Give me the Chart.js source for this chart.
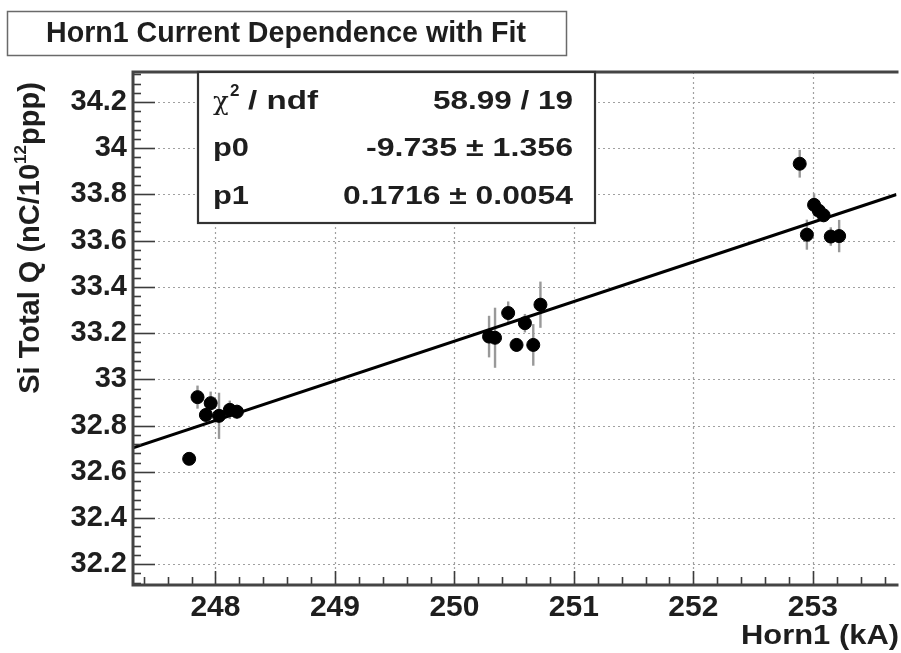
<!DOCTYPE html>
<html>
<head>
<meta charset="utf-8">
<script src="https://cdn.jsdelivr.net/npm/chart.js@4.4.1/dist/chart.umd.min.js"></script>
<style>
  html, body { margin: 0; padding: 0; background: #fff; overflow: hidden; }
  #wrap { width: 904px; height: 653px; }
</style>
</head>
<body>
<div id="wrap"><canvas id="horn" width="904" height="653"></canvas></div>
<script>
  // Horn1 current (kA) vs. Si total charge, with linear fit results
  const hornCurrent = [
    247.78, 247.85, 247.92, 247.96, 248.03, 248.12, 248.18,
    250.29, 250.34, 250.45, 250.52, 250.59, 250.66, 250.72,
    252.89, 252.95, 253.01, 253.05, 253.09, 253.15, 253.22
  ];
  const totalQ = [
    32.656, 32.923, 32.846, 32.897, 32.842, 32.868, 32.860,
    33.185, 33.180, 33.287, 33.149, 33.243, 33.149, 33.323,
    33.933, 33.626, 33.755, 33.730, 33.710, 33.618, 33.620
  ];
  const totalQErr = [
    0.02, 0.05, 0.03, 0.05, 0.10, 0.04, 0.03,
    0.09, 0.13, 0.05, 0.03, 0.04, 0.09, 0.10,
    0.06, 0.065, 0.05, 0.03, 0.03, 0.04, 0.07
  ];

  // fit: Q = p0 + p1 * I
  const p0 = -9.735, p0Err = 1.356;
  const p1 = 0.1716, p1Err = 0.0054;
  const chi2 = 58.99, ndf = 19;

  const X_MIN = 247.31, X_MAX = 253.70;
  const Y_MIN = 32.11, Y_MAX = 34.33;

  const FONT = "'Liberation Sans', Arial, Helvetica, sans-serif";
  const ink = '#1e1e1e';

  const points = hornCurrent.map((x, i) => ({ x, y: totalQ[i], err: totalQErr[i] }));
  const fitLine = [X_MIN, X_MAX].map((x) => ({ x, y: p0 + p1 * x }));

  // text squeezed or stretched horizontally to a given width
  function fitText(ctx, text, x, y, width, align) {
    const w = ctx.measureText(text).width;
    const sx = width / w;
    ctx.save();
    ctx.translate(x, y);
    ctx.scale(sx, 1);
    ctx.textAlign = align || 'left';
    ctx.fillText(text, 0, 0);
    ctx.restore();
  }

  const rootFrame = {
    id: 'rootFrame',
    beforeDatasetsDraw(chart) {
      const { ctx, chartArea: a, scales: { x, y } } = chart;
      ctx.save();
      // dotted grid at the labelled ticks
      ctx.strokeStyle = '#a0a0a0';
      ctx.lineWidth = 1.2;
      ctx.setLineDash([2, 3]);
      for (let v = 248; v <= 253; v++) {
        const px = Math.round(x.getPixelForValue(v)) + 0.5;
        ctx.beginPath(); ctx.moveTo(px, a.top); ctx.lineTo(px, a.bottom); ctx.stroke();
      }
      for (let k = 0; k <= 10; k++) {
        const py = Math.round(y.getPixelForValue(32.2 + k * 0.2)) + 0.5;
        ctx.beginPath(); ctx.moveTo(a.left, py); ctx.lineTo(a.right, py); ctx.stroke();
      }
      ctx.setLineDash([]);
      // vertical error bars
      ctx.strokeStyle = '#999';
      ctx.lineWidth = 2.4;
      points.forEach((p) => {
        const px = x.getPixelForValue(p.x);
        ctx.beginPath();
        ctx.moveTo(px, y.getPixelForValue(p.y - p.err));
        ctx.lineTo(px, y.getPixelForValue(p.y + p.err));
        ctx.stroke();
      });
      ctx.restore();
    },
    afterDatasetsDraw(chart) {
      const { ctx, chartArea: a, scales: { x, y } } = chart;
      ctx.save();
      ctx.strokeStyle = '#3c3c3c';
      // tick marks, pointing into the frame
      ctx.lineWidth = 1.6;
      for (let k = 0; k <= 55; k++) {
        const v = 32.12 + k * 0.04;
        if (v > Y_MAX) break;
        const major = k % 5 === 2;
        const py = Math.round(y.getPixelForValue(v)) + 0.5;
        ctx.beginPath(); ctx.moveTo(a.left, py); ctx.lineTo(a.left + (major ? 22 : 8), py); ctx.stroke();
      }
      for (let k = 0; k <= 40; k++) {
        const v = 247.4 + k * 0.2;
        if (v > X_MAX) break;
        const major = k % 5 === 3;
        const px = Math.round(x.getPixelForValue(v)) + 0.5;
        ctx.beginPath(); ctx.moveTo(px, a.bottom); ctx.lineTo(px, a.bottom - (major ? 14 : 8)); ctx.stroke();
      }
      // frame
      ctx.lineWidth = 3;
      ctx.strokeStyle = '#444';
      ctx.beginPath();
      ctx.moveTo(a.right + 2, a.top);
      ctx.lineTo(a.left, a.top);
      ctx.lineTo(a.left, a.bottom);
      ctx.lineTo(a.right + 2, a.bottom);
      ctx.stroke();
      ctx.restore();
    },
    afterDraw(chart) {
      const { ctx } = chart;
      ctx.save();
      ctx.fillStyle = ink;
      ctx.textBaseline = 'middle';

      // title box
      ctx.fillStyle = '#fff';
      ctx.fillRect(7, 11, 559, 44);
      ctx.strokeStyle = '#6a6a6a';
      ctx.lineWidth = 1.5;
      ctx.strokeRect(7.5, 11.5, 559, 44);
      ctx.fillStyle = ink;
      ctx.font = `bold 29px ${FONT}`;
      fitText(ctx, 'Horn1 Current Dependence with Fit', 286, 34, 480, 'center');

      // fit statistics box
      ctx.fillStyle = '#fff';
      ctx.fillRect(198, 72, 397, 151);
      ctx.strokeStyle = '#333';
      ctx.lineWidth = 2.2;
      ctx.strokeRect(198, 72, 397, 151);
      ctx.fillStyle = ink;
      ctx.textAlign = 'left';
      ctx.font = `26px 'DejaVu Serif', serif`;
      ctx.fillText('\u03c7', 213, 103);
      ctx.font = `bold 17px ${FONT}`;
      ctx.fillText('2', 230, 91);
      ctx.font = `bold 26px ${FONT}`;
      fitText(ctx, '/ ndf', 248, 102, 70);
      fitText(ctx, 'p0', 213, 149, 36);
      fitText(ctx, 'p1', 213, 197, 36);
      fitText(ctx, `${chi2.toFixed(2)} / ${ndf}`, 573, 102, 140, 'right');
      fitText(ctx, `${p0.toFixed(3)} \u00b1 ${p0Err.toFixed(3)}`, 573, 149, 207, 'right');
      fitText(ctx, `${p1.toFixed(4)} \u00b1 ${p1Err.toFixed(4)}`, 573, 197, 230, 'right');

      // x axis title
      ctx.font = `bold 28px ${FONT}`;
      fitText(ctx, 'Horn1 (kA)', 899, 636, 158, 'right');

      // y axis title, rotated, with superscript
      ctx.translate(31, 238);
      ctx.rotate(-Math.PI / 2);
      const big = `bold 29px ${FONT}`;
      const small = `bold 17px ${FONT}`;
      const partA = 'Si Total Q (nC/10';
      const partB = '12';
      const partC = 'ppp)';
      ctx.font = big;
      const wA = ctx.measureText(partA).width;
      const wC = ctx.measureText(partC).width;
      ctx.font = small;
      const wB = ctx.measureText(partB).width;
      let cx = -(wA + wB + wC) / 2;
      ctx.textAlign = 'left';
      ctx.font = big;
      ctx.fillText(partA, cx, 0); cx += wA;
      ctx.font = small;
      ctx.fillText(partB, cx, -10); cx += wB;
      ctx.font = big;
      ctx.fillText(partC, cx, 0);
      ctx.restore();
    }
  };

  new Chart(document.getElementById('horn'), {
    type: 'scatter',
    data: {
      datasets: [
        {
          type: 'line',
          label: 'fit',
          data: fitLine,
          borderColor: '#000',
          borderWidth: 3,
          pointRadius: 0,
          fill: false
        },
        {
          label: 'Horn1 scan',
          data: points,
          backgroundColor: '#000',
          borderColor: '#000',
          pointRadius: 6.5,
          pointHoverRadius: 6.5
        }
      ]
    },
    options: {
      responsive: false,
      animation: false,
      layout: { padding: { top: 72, left: 0, right: 0, bottom: 0 } },
      plugins: { legend: { display: false }, tooltip: { enabled: false } },
      scales: {
        x: {
          type: 'linear',
          min: X_MIN,
          max: X_MAX,
          grid: { display: false, drawTicks: false },
          border: { display: false },
          afterFit: (scale) => { scale.height = 68; },
          ticks: {
            stepSize: 1,
            includeBounds: false,
            padding: 5,
            color: ink,
            font: { family: FONT, size: 30, weight: 'bold' },
            maxRotation: 0,
            callback: (v) => String(v)
          }
        },
        y: {
          type: 'linear',
          min: Y_MIN,
          max: Y_MAX,
          grid: { display: false, drawTicks: false },
          border: { display: false },
          afterFit: (scale) => { scale.width = 133; },
          ticks: {
            stepSize: 0.2,
            includeBounds: false,
            padding: 6,
            color: ink,
            font: { family: FONT, size: 29, weight: 'bold' },
            callback: (v) => String(+v.toFixed(1))
          }
        }
      }
    },
    plugins: [rootFrame]
  });
</script>
</body>
</html>
